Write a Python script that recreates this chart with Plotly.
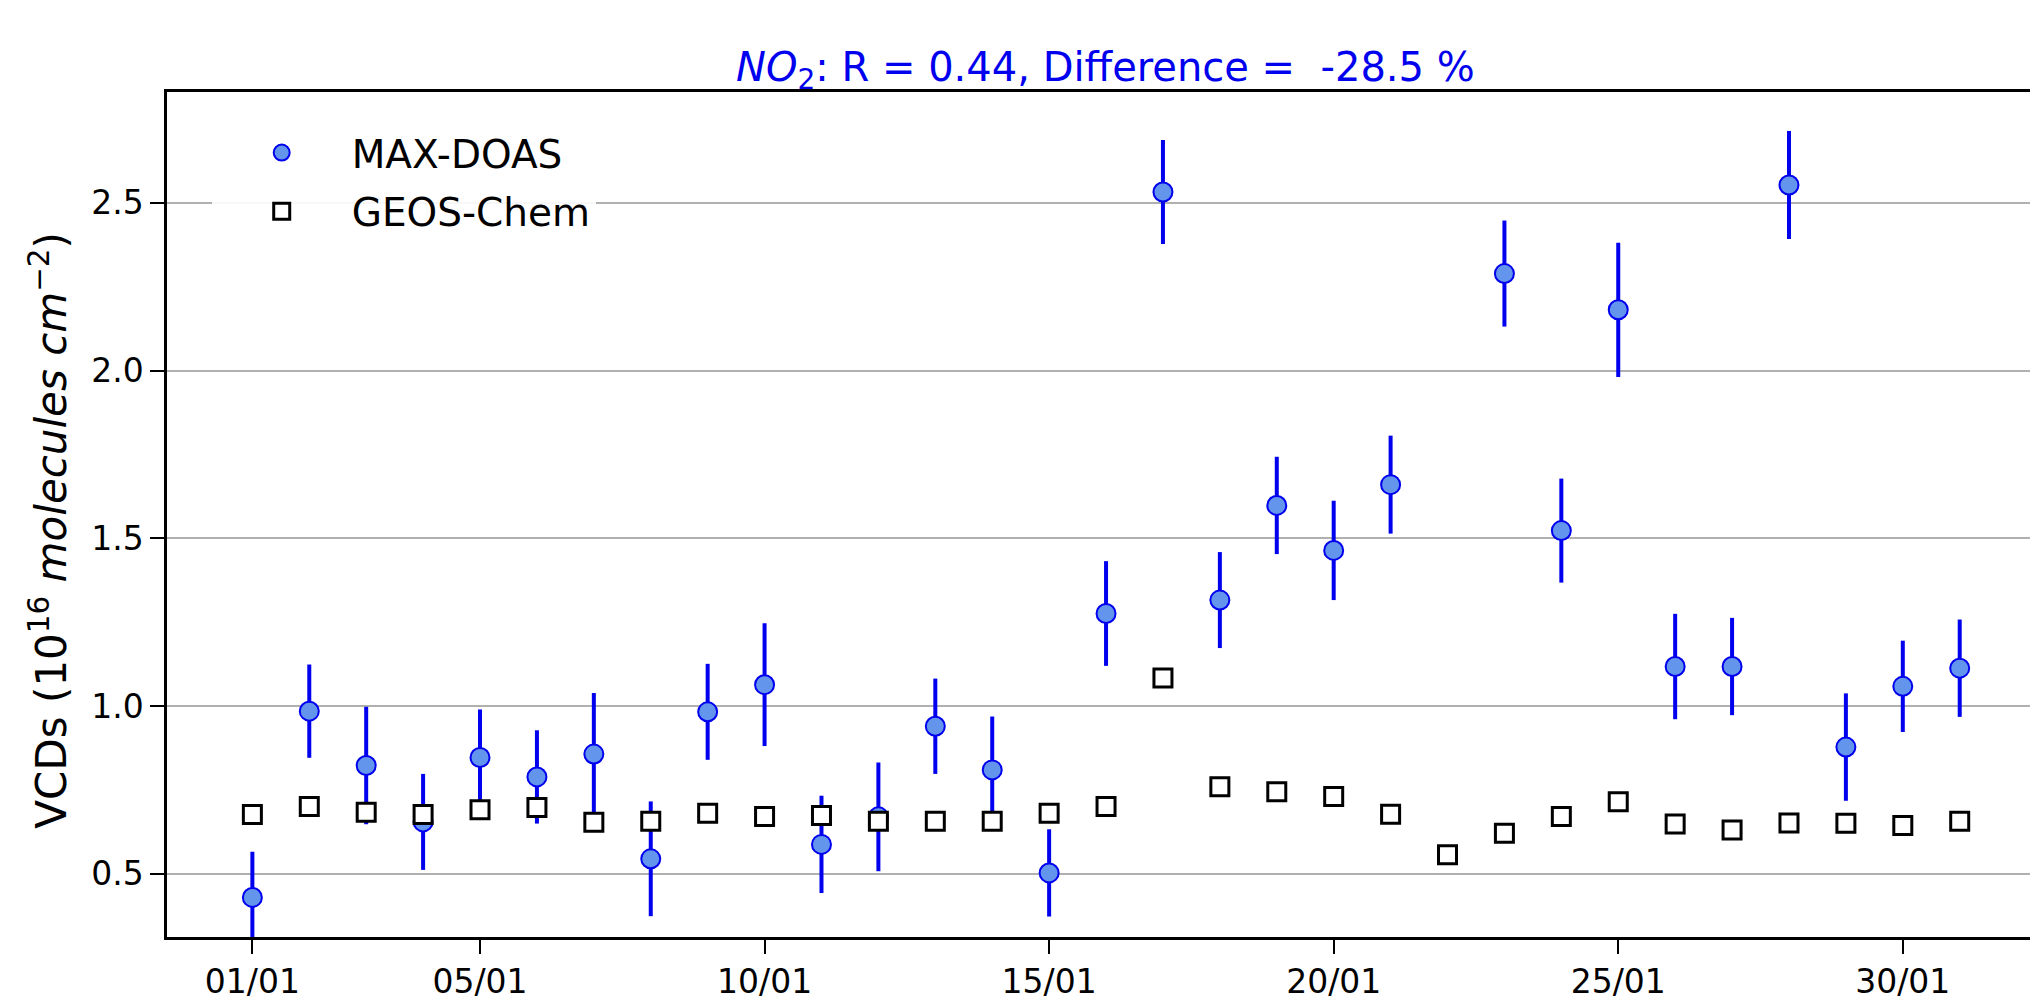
import plotly.graph_objects as go

# ---- data ----
days = list(range(1, 32))
maxdoas = [0.430, 0.985, 0.823, 0.655, 0.847, 0.789, 0.857, 0.545, 0.983, 1.064,
           0.588, 0.670, 0.940, 0.810, 0.503, 1.276, 2.532, 1.316, 1.598, 1.464,
           1.660, None, 2.289, 1.523, 2.181, 1.118, 1.118, 2.553, 0.878, 1.059,
           1.113]
maxdoas_err = [0.136, 0.139, 0.175, 0.143, 0.143, 0.139, 0.182, 0.171, 0.143, 0.183,
               0.145, 0.162, 0.142, 0.159, 0.130, 0.156, 0.155, 0.143, 0.145, 0.148,
               0.146, None, 0.158, 0.155, 0.200, 0.157, 0.145, 0.161, 0.160, 0.136,
               0.145]
geos = [0.677, 0.701, 0.684, 0.677, 0.691, 0.698, 0.654, 0.657, 0.681, 0.671,
        0.674, 0.657, 0.657, 0.657, 0.681, 0.701, 1.084, 0.760, 0.745, 0.731,
        0.678, 0.557, 0.621, 0.671, 0.715, 0.649, 0.631, 0.652, 0.651, 0.644,
        0.657]
tick_days = [1, 5, 10, 15, 20, 25, 30]
tick_labels = ["01/01", "05/01", "10/01", "15/01", "20/01", "25/01", "30/01"]
y_ticks = [0.5, 1.0, 1.5, 2.0, 2.5]

FONT = "DejaVu Sans"

fig = go.Figure()
fig.add_trace(go.Scatter(
    x=days, y=maxdoas, mode="markers", name="MAX-DOAS", legendgroup="a",
    marker=dict(symbol="circle", size=19, color="#6495ED",
                line=dict(color="#0000EE", width=2)),
    error_y=dict(type="data", array=maxdoas_err, visible=True,
                 color="#0000EE", thickness=4, width=0),
))
fig.add_trace(go.Scatter(
    x=days, y=geos, mode="markers", name="GEOS-Chem", legendgroup="b",
    marker=dict(symbol="square", size=18, color="white",
                line=dict(color="black", width=3)),
))

fig.update_layout(
    width=2030, height=1001,
    margin=dict(l=167, r=0, t=92, b=61),
    paper_bgcolor="white", plot_bgcolor="white",
    font=dict(family=FONT, color="black", size=32),
    showlegend=True,
    legend=dict(
        x=0.024, y=0.966, xanchor="left", yanchor="top",
        bgcolor="rgba(255,255,255,0.9)", borderwidth=0,
        font=dict(family=FONT, size=39, color="black"),
        itemwidth=130, tracegroupgap=5, traceorder="grouped",
    ),
    xaxis=dict(
        range=[-0.5, 32.235],
        tickmode="array", tickvals=tick_days, ticktext=tick_labels,
        showgrid=False, zeroline=False,
        showline=True, linecolor="black", linewidth=2.5, mirror=True,
        ticks="outside", ticklen=14, tickwidth=2, tickcolor="black",
        tickfont=dict(family=FONT, size=33, color="black"),
    ),
    yaxis=dict(
        range=[0.312, 2.83],
        tickmode="array", tickvals=y_ticks, tickformat=".1f",
        showgrid=True, gridcolor="#b0b0b0", gridwidth=2,
        zeroline=False,
        showline=True, linecolor="black", linewidth=2.5, mirror=False,
        ticks="outside", ticklen=14, tickwidth=2, tickcolor="black",
        tickfont=dict(family=FONT, size=33, color="black"),
    ),
    annotations=[
        dict(
            text="<i>NO</i><sub>2</sub>: R = 0.44, Difference = &nbsp;-28.5 %",
            xref="paper", yref="paper", x=0.504, y=1.0,
            xanchor="center", yanchor="bottom", yshift=-6,
            showarrow=False,
            font=dict(family=FONT, size=40, color="#0000EE"),
        ),
        dict(
            text="VCDs (10<sup>16</sup> <i>molecules cm</i><sup>−2</sup>)",
            xref="paper", yref="paper", x=-0.0633, y=0.481,
            xanchor="center", yanchor="middle", textangle=-90,
            showarrow=False,
            font=dict(family=FONT, size=42, color="black"),
        ),
    ],
)

fig.write_html("out.html")
